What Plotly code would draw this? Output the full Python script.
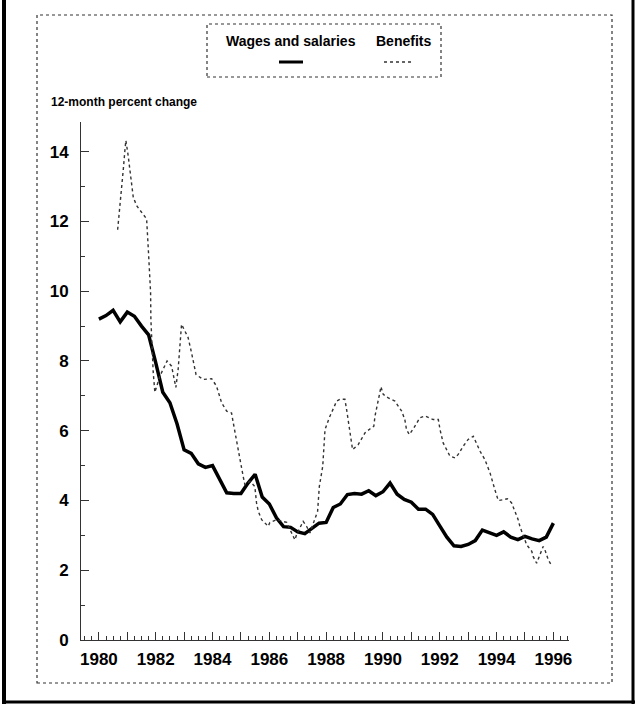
import plotly.graph_objects as go

# ---- Data ----
wage_years = [1980 + 0.25 * i for i in range(65)]
wage_values = [9.2, 9.3, 9.45, 9.12, 9.4, 9.28, 9.0, 8.75, 7.95, 7.1,
               6.8, 6.2, 5.45, 5.35, 5.05, 4.95, 5.0, 4.6, 4.22, 4.2,
               4.2, 4.5, 4.75, 4.1, 3.9, 3.5, 3.25, 3.23, 3.1, 3.05,
               3.2, 3.35, 3.37, 3.8, 3.9, 4.17, 4.2, 4.18, 4.28, 4.14,
               4.25, 4.5, 4.18, 4.03, 3.95, 3.75, 3.75, 3.6, 3.27, 2.95,
               2.7, 2.68, 2.74, 2.85, 3.15, 3.08, 3.0, 3.1, 2.95, 2.88,
               2.97, 2.9, 2.85, 2.95, 3.35]

ben_years = [1980.66, 1980.74, 1980.80, 1980.86, 1980.92, 1980.95, 1981.03, 1981.12,
             1981.21, 1981.33, 1981.56, 1981.68, 1981.74, 1981.80, 1981.82, 1981.83,
             1981.91, 1981.97, 1982.15, 1982.40, 1982.56, 1982.71, 1982.79, 1982.91,
             1983.14, 1983.26, 1983.42, 1983.67, 1983.97, 1984.14, 1984.26, 1984.32,
             1984.50, 1984.67, 1984.73, 1984.82, 1984.90, 1984.99, 1985.08, 1985.14,
             1985.32, 1985.49, 1985.55, 1985.61, 1985.73, 1985.96, 1986.02, 1986.26,
             1986.61, 1986.90, 1986.96, 1987.19, 1987.31, 1987.43, 1987.70, 1987.76,
             1987.88, 1987.92, 1987.96, 1988.11, 1988.25, 1988.37, 1988.49, 1988.66,
             1988.72, 1988.81, 1988.86, 1988.93, 1989.13, 1989.37, 1989.54, 1989.68,
             1989.72, 1989.78, 1989.89, 1989.93, 1990.01, 1990.19, 1990.42, 1990.66,
             1990.77, 1990.83, 1990.93, 1991.09, 1991.30, 1991.48, 1991.77, 1991.95,
             1992.01, 1992.12, 1992.24, 1992.36, 1992.54, 1992.65, 1992.83, 1993.00,
             1993.18, 1993.30, 1993.42, 1993.59, 1993.77, 1993.94, 1994.06, 1994.24,
             1994.38, 1994.53, 1994.65, 1994.76, 1994.82, 1995.00, 1995.06, 1995.24,
             1995.29, 1995.41, 1995.53, 1995.64, 1995.70, 1995.82, 1995.94]
ben_values = [11.76, 12.45, 12.79, 13.5, 14.08, 14.32, 13.89, 13.3,
              12.69, 12.45, 12.21, 12.07, 11.2, 10.44, 9.96, 9.2,
              7.7, 7.1, 7.57, 8.0, 7.85, 7.24, 7.76, 9.05,
              8.67, 8.24, 7.61, 7.47, 7.49, 7.28, 6.99, 6.8,
              6.56, 6.51, 6.23, 5.86, 5.56, 5.08, 4.69, 4.45,
              4.55, 4.4, 3.93, 3.69, 3.45, 3.26, 3.37, 3.45,
              3.37, 2.87, 3.02, 3.4, 3.26, 3.07, 3.69, 4.4,
              4.98, 5.75, 6.03, 6.37, 6.61, 6.85, 6.9, 6.9,
              6.61, 6.13, 5.75, 5.46, 5.6, 5.94, 6.05, 6.13,
              6.42, 6.7, 7.09, 7.26, 7.04, 6.94, 6.85, 6.56,
              6.32, 6.03, 5.89, 6.08, 6.37, 6.42, 6.32, 6.32,
              6.03, 5.65, 5.46, 5.27, 5.22, 5.32, 5.56, 5.75,
              5.84, 5.6, 5.41, 5.17, 4.79, 4.31, 4.0, 4.02,
              4.05, 3.93, 3.69, 3.45, 3.26, 2.87, 2.73, 2.54,
              2.39, 2.2, 2.44, 2.68, 2.59, 2.3, 2.13]

x_tick_vals = list(range(1980, 1997))
x_tick_text = [str(y) if y % 2 == 0 else "" for y in x_tick_vals]
y_tick_vals = [0, 2, 4, 6, 8, 10, 12, 14]
y_tick_text = [str(v) for v in y_tick_vals]

series_names = ["Wages and salaries", "Benefits"]
y_title = "12-month percent change"

# ---- Layout geometry (pixels) ----
W, H = 637, 706
L, R, T, B = 81, 569, 122, 640
def px(xp):
    return (xp - L) / (R - L)
def py(yp):
    return (B - yp) / (B - T)

FONT = "Liberation Sans, Arial, sans-serif"

fig = go.Figure()
fig.add_trace(go.Scatter(x=wage_years, y=wage_values, mode="lines",
                         name=series_names[0],
                         line=dict(color="black", width=3.5), showlegend=False))
fig.add_trace(go.Scatter(x=ben_years, y=ben_values, mode="lines",
                         name=series_names[1],
                         line=dict(color="#333333", width=1.4, dash="dot"),
                         showlegend=False))

fig.update_layout(
    width=W, height=H,
    margin=dict(l=L, r=W - R, t=T, b=H - B),
    paper_bgcolor="white", plot_bgcolor="white",
    font=dict(family=FONT, color="black", size=17, weight="bold"),
    xaxis=dict(range=[1979.37, 1996.55], tickvals=x_tick_vals, ticktext=x_tick_text,
               ticks="inside", ticklen=8, tickwidth=1, tickcolor="#333",
               showline=True, linecolor="#333", linewidth=1,
               showgrid=False, zeroline=False, ticklabelstandoff=4,
               minor=dict(dtick=0.25, tick0=1980, ticks="inside", ticklen=4,
                          tickcolor="#333", showgrid=False),
               tickfont=dict(family=FONT, size=17, weight="bold")),
    yaxis=dict(range=[0, 14.85], tickvals=y_tick_vals, ticktext=y_tick_text,
               ticks="inside", ticklen=8, tickwidth=1, tickcolor="#333",
               showline=True, linecolor="#333", linewidth=1,
               showgrid=False, zeroline=False, ticklabelstandoff=8,
               minor=dict(dtick=1, tick0=0, ticks="inside", ticklen=4,
                          tickcolor="#333", showgrid=False),
               tickfont=dict(family=FONT, size=17, weight="bold")),
)

shapes = []
# inner dotted frame
shapes.append(dict(type="rect", xref="paper", yref="paper",
                   x0=px(37), x1=px(612), y0=py(683), y1=py(15),
                   line=dict(color="#333", width=1.2, dash="dot")))
# outer thick frame (left, right, bottom)
shapes.append(dict(type="line", xref="paper", yref="paper",
                   x0=px(4), x1=px(4), y0=py(704), y1=py(0),
                   line=dict(color="black", width=4)))
shapes.append(dict(type="line", xref="paper", yref="paper",
                   x0=px(633), x1=px(633), y0=py(704), y1=py(0),
                   line=dict(color="black", width=3)))
shapes.append(dict(type="line", xref="paper", yref="paper",
                   x0=px(2), x1=px(635), y0=py(702), y1=py(702),
                   line=dict(color="black", width=3)))
# legend box
shapes.append(dict(type="rect", xref="paper", yref="paper",
                   x0=px(207), x1=px(441), y0=py(77), y1=py(24),
                   line=dict(color="#333", width=1.2, dash="dot")))
# legend samples
shapes.append(dict(type="line", xref="paper", yref="paper",
                   x0=px(279), x1=px(303), y0=py(62), y1=py(62),
                   line=dict(color="black", width=3)))
shapes.append(dict(type="line", xref="paper", yref="paper",
                   x0=px(384), x1=px(413), y0=py(62), y1=py(62),
                   line=dict(color="#333", width=1.4, dash="dot")))
fig.update_layout(shapes=shapes)

annotations = [
    dict(text=series_names[0], xref="paper", yref="paper", x=px(291), y=py(41),
         showarrow=False, xanchor="center", yanchor="middle",
         font=dict(family=FONT, size=14, weight="bold")),
    dict(text=series_names[1], xref="paper", yref="paper", x=px(403), y=py(41),
         showarrow=False, xanchor="center", yanchor="middle",
         font=dict(family=FONT, size=14, weight="bold")),
    dict(text=y_title, xref="paper", yref="paper", x=px(49), y=py(102),
         showarrow=False, xanchor="left", yanchor="middle",
         font=dict(family=FONT, size=12, weight="bold")),
]
fig.update_layout(annotations=annotations)

fig.write_html("out.html", config={"displayModeBar": False},
               post_script="document.body.style.margin='0';document.body.style.overflow='hidden';")
